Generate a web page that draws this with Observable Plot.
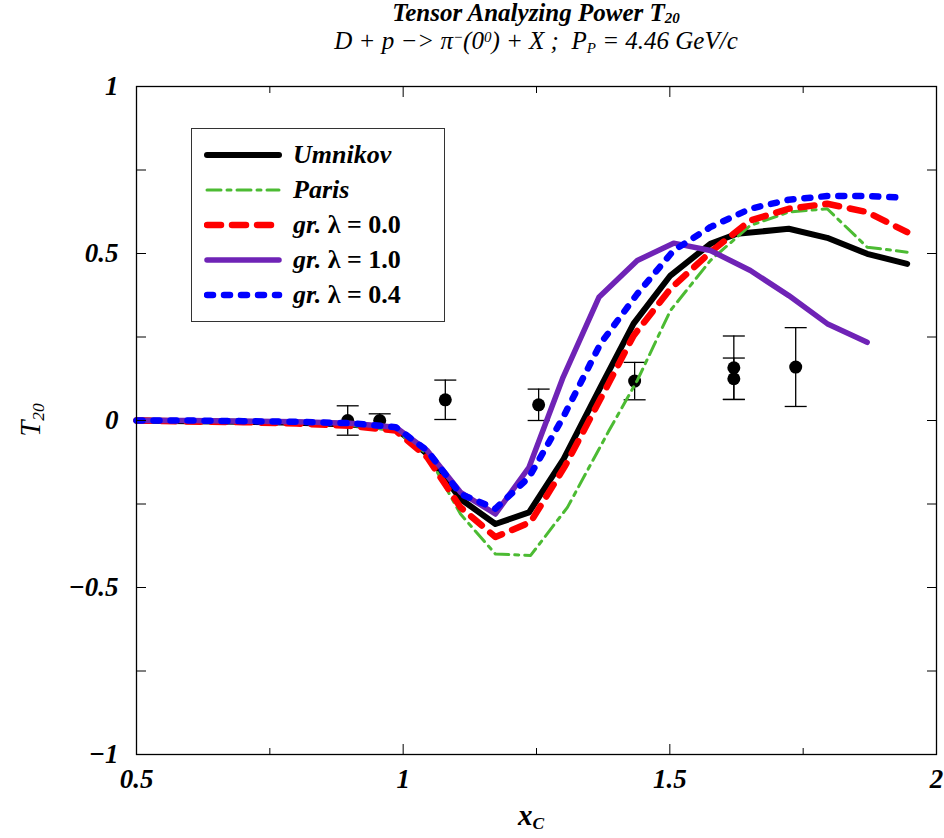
<!DOCTYPE html>
<html><head><meta charset="utf-8">
<script src="https://cdn.jsdelivr.net/npm/d3@7"></script>
<script src="https://cdn.jsdelivr.net/npm/@observablehq/plot@0.6"></script>
<style>
body{margin:0;background:#fff;}
#wrap{position:relative;width:944px;height:838px;font-family:"Liberation Serif","Times New Roman",serif;color:#000;overflow:hidden;}
#head{position:relative;height:60px;}
.t1{position:absolute;left:136px;width:800px;top:0px;text-align:center;font-size:25px;line-height:26px;font-weight:bold;font-style:italic;}
.t2{position:absolute;left:136px;width:800px;top:28px;text-align:center;font-size:25px;line-height:26px;font-style:italic;}
.sb{font-size:60%;position:relative;top:0.25em;line-height:0;}
.t1 .sb{top:0.1em;}
.sp{font-size:60%;position:relative;top:-0.45em;line-height:0;}
#legend{position:absolute;left:191px;top:128px;width:254px;height:194px;border:1px solid #333;background:#fff;box-sizing:border-box;}
.row{position:absolute;left:0;height:30px;width:250px;}
.row svg{position:absolute;left:12px;top:0;}
.row span.lab{position:absolute;left:101px;top:0;font-size:26px;line-height:30px;font-weight:bold;white-space:nowrap;}
.it{font-style:italic;}
#ylab{position:absolute;left:30px;top:420px;transform:translate(-50%,-50%) rotate(-90deg);font-size:29px;line-height:32px;font-style:italic;white-space:nowrap;}
#xlab{position:absolute;left:531px;top:815px;transform:translate(-50%,-50%);font-size:29px;line-height:30px;font-style:italic;font-weight:bold;white-space:nowrap;}
</style></head><body>
<div id="wrap">
  <div id="head">
    <div class="t1">Tensor Analyzing Power T<span class="sb">20</span></div>
    <div class="t2">D + p −&gt; π<span class="sp">−</span>(0<span class="sp">0</span>) + X ;&nbsp; P<span class="sb">P</span> = 4.46 GeV/c</div>
  </div>
  <div id="chart"></div>
  <div id="legend"></div>
  <div id="ylab">T<span class="sb">20</span></div>
  <div id="xlab">x<span class="sb">C</span></div>
</div>
<script>
// ---- data ----
const xTicks = [0.5, 1, 1.5, 2];
const xMinorTicks = [0.75, 1.25, 1.75];
const yTicks = [-1, -0.5, 0, 0.5, 1];
const yMinorTicks = [-0.75, -0.25, 0.25, 0.75];

const seriesNames = ["Umnikov", "Paris", "gr. λ = 0.0", "gr. λ = 1.0", "gr. λ = 0.4"];

const umnikovX = [0.5, 0.6, 0.7, 0.8, 0.9, 0.986, 1.045, 1.1075, 1.173, 1.236, 1.301, 1.37, 1.432, 1.501, 1.576, 1.626, 1.723, 1.795, 1.870, 1.945];
const umnikovY = [0, -0.002, -0.004, -0.007, -0.012, -0.024, -0.10, -0.235, -0.31, -0.275, -0.115, 0.10, 0.29, 0.434, 0.529, 0.559, 0.574, 0.547, 0.499, 0.469];

const parisX = [0.5, 0.6, 0.7, 0.8, 0.9, 0.986, 1.045, 1.1075, 1.173, 1.239, 1.308, 1.386, 1.439, 1.501, 1.576, 1.651, 1.723, 1.795, 1.870, 1.945];
const parisY = [0, -0.002, -0.004, -0.008, -0.014, -0.03, -0.10, -0.28, -0.40, -0.404, -0.26, -0.03, 0.12, 0.329, 0.479, 0.584, 0.624, 0.634, 0.519, 0.504];

const gr00X = [0.5, 0.6, 0.7, 0.8, 0.9, 0.986, 1.045, 1.1075, 1.173, 1.239, 1.304, 1.37, 1.432, 1.501, 1.576, 1.651, 1.723, 1.795, 1.870, 1.945];
const gr00Y = [0, -0.003, -0.005, -0.009, -0.016, -0.03, -0.11, -0.26, -0.349, -0.304, -0.135, 0.065, 0.254, 0.394, 0.504, 0.599, 0.634, 0.649, 0.624, 0.564];

const gr10X = [0.5, 0.6, 0.7, 0.8, 0.9, 0.986, 1.045, 1.1075, 1.173, 1.236, 1.30, 1.367, 1.439, 1.507, 1.576, 1.651, 1.723, 1.795, 1.870];
const gr10Y = [0, 0, -0.002, -0.004, -0.008, -0.02, -0.09, -0.215, -0.28, -0.14, 0.13, 0.369, 0.479, 0.531, 0.509, 0.449, 0.374, 0.29, 0.234];

const gr04X = [0.5, 0.6, 0.7, 0.8, 0.9, 0.986, 1.045, 1.1075, 1.173, 1.236, 1.30, 1.37, 1.439, 1.507, 1.576, 1.651, 1.723, 1.795, 1.870, 1.939];
const gr04Y = [0, 0, -0.002, -0.004, -0.008, -0.02, -0.09, -0.22, -0.264, -0.17, 0.01, 0.23, 0.379, 0.509, 0.579, 0.634, 0.661, 0.672, 0.672, 0.667];

const dataX = [0.896, 0.956, 1.079, 1.254, 1.434, 1.620, 1.620, 1.736];
const dataY = [0.0, 0.0, 0.062, 0.047, 0.118, 0.158, 0.125, 0.160];
const dataErr = [0.044, 0.02, 0.059, 0.047, 0.056, 0.095, 0.062, 0.118];

// ---- styles ----
const styles = [
  {color: "#000000", width: 6, dash: null},
  {color: "#4cbb33", width: 3, dash: "14,6,4,6"},
  {color: "#ff0000", width: 6.5, dash: "14,11"},
  {color: "#6f23b6", width: 5.5, dash: null},
  {color: "#0000ff", width: 6.5, dash: "6,11"}
];
const xs = [umnikovX, parisX, gr00X, gr10X, gr04X];
const ys = [umnikovY, parisY, gr00Y, gr10Y, gr04Y];
const drawOrder = [0, 1, 2, 3, 4];

const obs = dataX.map((x, i) => ({x, y: dataY[i], e: dataErr[i]}));
const capSymbol = {draw(ctx, size) { const w = Math.sqrt(size / Math.PI); ctx.moveTo(-w, 0); ctx.lineTo(w, 0); }};
const fmt = d => d < 0 ? "\u2212" + Math.abs(d) : String(d);

const lineMarks = drawOrder.map(i => {
  const pts = xs[i].map((x, j) => ({x, y: ys[i][j]}));
  return Plot.line(pts, {x: "x", y: "y", stroke: styles[i].color, strokeWidth: styles[i].width,
    strokeDasharray: styles[i].dash, strokeLinecap: "round", strokeLinejoin: "round"});
});

const font = {fontSize: 27, fontWeight: "bold", fontStyle: "italic"};

const plot = Plot.plot({
  width: 944, height: 778,
  marginTop: 26, marginBottom: 84, marginLeft: 136, marginRight: 8,
  style: {fontFamily: "'Liberation Serif', 'Times New Roman', serif", background: "white", color: "black"},
  x: {domain: [0.5, 2], label: null},
  y: {domain: [-1, 1], label: null},
  marks: [
    Plot.ruleX(obs, {x: "x", y1: d => d.y - d.e, y2: d => d.y + d.e, stroke: "black", strokeWidth: 1.3}),
    Plot.dot(obs, {x: "x", y: d => d.y + d.e, r: 11, symbol: capSymbol, stroke: "black", strokeWidth: 1.3, fill: "none"}),
    Plot.dot(obs, {x: "x", y: d => d.y - d.e, r: 11, symbol: capSymbol, stroke: "black", strokeWidth: 1.3, fill: "none"}),
    Plot.dot(obs, {x: "x", y: "y", r: 6.5, fill: "black", stroke: "none"}),
    ...lineMarks,
    Plot.axisX(xTicks, {anchor: "bottom", tickSize: 0, tickPadding: 14, tickFormat: fmt, label: null, ...font}),
    Plot.axisY(yTicks, {anchor: "left", tickSize: 0, tickPadding: 18, tickFormat: fmt, label: null, ...font}),
    Plot.axisX(xTicks, {anchor: "bottom", tickSize: -10, fill: "none", label: null}),
    Plot.axisX(xMinorTicks, {anchor: "bottom", tickSize: -6, fill: "none", label: null}),
    Plot.axisX(xTicks, {anchor: "top", tickSize: -10, fill: "none", label: null}),
    Plot.axisX(xMinorTicks, {anchor: "top", tickSize: -6, fill: "none", label: null}),
    Plot.axisY([...yTicks, ...yMinorTicks], {anchor: "left", tickSize: -10, fill: "none", label: null}),
    Plot.axisY([...yTicks, ...yMinorTicks], {anchor: "right", tickSize: -10, fill: "none", label: null}),
    Plot.frame({stroke: "black", strokeWidth: 1.3})
  ]
});
document.getElementById("chart").appendChild(plot);

// ---- legend ----
const legend = document.getElementById("legend");
const legendLabels = [
  '<span class="it">Umnikov</span>',
  '<span class="it">Paris</span>',
  '<span class="it">gr.</span> λ = 0.0',
  '<span class="it">gr.</span> λ = 1.0',
  '<span class="it">gr.</span> λ = 0.4'
];
seriesNames.forEach((name, i) => {
  const row = document.createElement("div");
  row.className = "row";
  row.style.top = (11 + i * 35) + "px";
  const s = styles[i];
  row.innerHTML = `<svg width="80" height="30"><line x1="3" y1="15" x2="75" y2="15" stroke="${s.color}" stroke-width="${s.width}" stroke-linecap="round" ${s.dash ? `stroke-dasharray="${s.dash}"` : ""}/></svg><span class="lab" title="${name}">${legendLabels[i]}</span>`;
  legend.appendChild(row);
});
</script>
</body></html>
